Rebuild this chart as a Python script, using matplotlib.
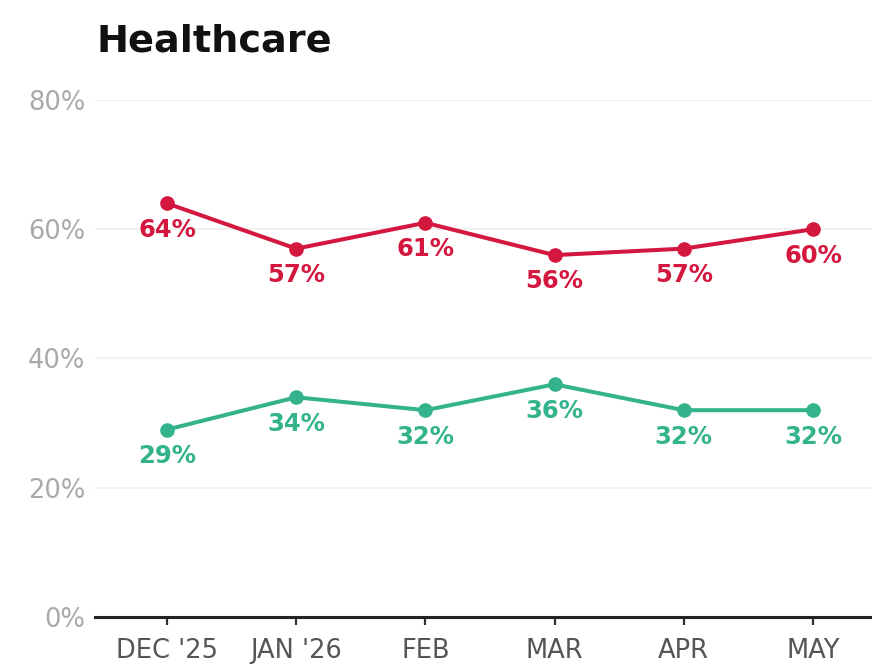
import matplotlib
matplotlib.use("Agg")
import matplotlib.pyplot as plt

months = ["DEC '25", "JAN '26", "FEB", "MAR", "APR", "MAY"]
red_vals = [64, 57, 61, 56, 57, 60]
green_vals = [29, 34, 32, 36, 32, 32]
yticks = [0, 20, 40, 60, 80]

RED = "#d4173f"
GREEN = "#33b38c"

fig = plt.figure(figsize=(8.72, 6.64), dpi=100)
ax = fig.add_axes([0.109, 0.0708, 0.891, 0.7786])

x = list(range(len(months)))
for vals, col in [(red_vals, RED), (green_vals, GREEN)]:
    ax.plot(x, vals, "-o", color=col, lw=2.9, ms=9.5, solid_capstyle="round",
            zorder=3, clip_on=False)
    for xi, v in zip(x, vals):
        ax.annotate(f"{v}%", (xi, v), xytext=(0, -19), textcoords="offset points",
                    ha="center", va="center", fontsize=17.5, fontweight="bold",
                    color=col, zorder=4)

ax.set_ylim(0, 80)
ax.set_xlim(-0.557, 5.457)
ax.set_yticks(yticks)
ax.set_yticklabels([f"{t}%" for t in yticks], fontsize=18.5, color="#a9a9a9")
ax.set_xticks(x)
ax.set_xticklabels(months, fontsize=18.5, color="#555555")
ax.tick_params(axis="y", length=0, pad=7)
ax.tick_params(axis="x", length=6, width=1.6, color="#333333", pad=9)

for t in yticks[1:]:
    ax.axhline(t, color="#f1f1f1", lw=1.5, zorder=0)

for s in ["top", "right", "left"]:
    ax.spines[s].set_visible(False)
ax.spines["bottom"].set_color("#222222")
ax.spines["bottom"].set_linewidth(2.2)

fig.text(0.111, 0.922, "Healthcare", fontsize=27.5, fontweight="bold",
         color="#111111", ha="left", va="baseline")

fig.savefig("out.png", dpi=100)
